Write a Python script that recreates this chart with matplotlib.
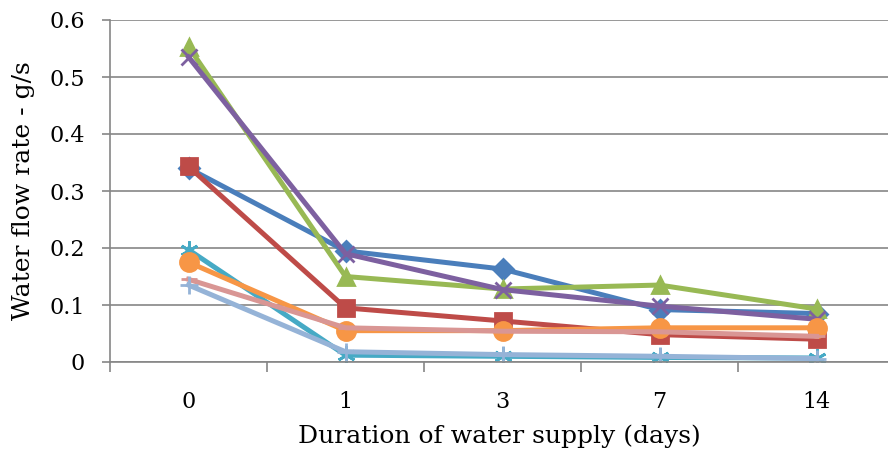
import matplotlib
matplotlib.use("Agg")
import matplotlib.pyplot as plt
from matplotlib.ticker import FixedLocator

days = ["0", "1", "3", "7", "14"]

s1 = [0.340, 0.195, 0.163, 0.092, 0.085]
s2 = [0.343, 0.095, 0.072, 0.048, 0.040]
s3 = [0.553, 0.150, 0.128, 0.135, 0.093]
s4 = [0.535, 0.190, 0.127, 0.098, 0.075]
s5 = [0.197, 0.012, 0.010, 0.008, 0.007]
s6 = [0.175, 0.055, 0.055, 0.060, 0.060]
s7 = [0.145, 0.060, 0.054, 0.053, 0.045]
s8 = [0.135, 0.018, 0.013, 0.010, 0.006]

series = [
    (s1, "#4A7EBB", "D", 10),
    (s2, "#BE4B48", "s", 11),
    (s3, "#98B954", "^", 12),
    (s4, "#7D60A0", "x", 12),
    (s5, "#46AAC5", (6, 2, 0), 13),
    (s6, "#F79646", "o", 13),
    (s7, "#D99694", "_", 12),
    (s8, "#95B3D7", "+", 13),
]

plt.rcParams['font.family'] = ['DejaVu Serif']

fig = plt.figure(figsize=(8.88, 4.54), dpi=100)
ax = fig.add_axes([110/888, 1 - 362/454, (888-110)/888, (362-20)/454])

x = list(range(len(days)))
for vals, col, mk, ms in series:
    ax.plot(x, vals, color=col, lw=3.6, marker=mk, ms=ms,
            mec=col, mfc=col, mew=2, solid_joinstyle='round')

ax.set_xlim(-0.5, 4.455)
ax.set_ylim(0, 0.6)
ax.set_yticks([0, 0.1, 0.2, 0.3, 0.4, 0.5, 0.6])
ax.set_yticklabels(["0", "0.1", "0.2", "0.3", "0.4", "0.5", "0.6"])
ax.set_xticks(x)
ax.set_xticklabels(days)
ax.xaxis.set_minor_locator(FixedLocator([-0.5, 0.5, 1.5, 2.5, 3.5]))
ax.tick_params(axis='x', which='major', length=0, pad=21, labelsize=16)
ax.tick_params(axis='x', which='minor', length=7, color='#868686', width=1.2)
ax.tick_params(axis='y', length=6, color='#868686', width=1.2, labelsize=16, pad=12)
ax.grid(axis='y', color='#868686', lw=1.2)
ax.set_axisbelow(True)
for side in ['top', 'right']:
    ax.spines[side].set_visible(False)
for side in ['left', 'bottom']:
    ax.spines[side].set_color('#868686')
    ax.spines[side].set_linewidth(1.2)

ax.set_xlabel("Duration of water supply (days)", fontsize=18, labelpad=8)
ax.set_ylabel("Water flow rate - g/s", fontsize=18, labelpad=10)

fig.savefig("out.png", dpi=100)
